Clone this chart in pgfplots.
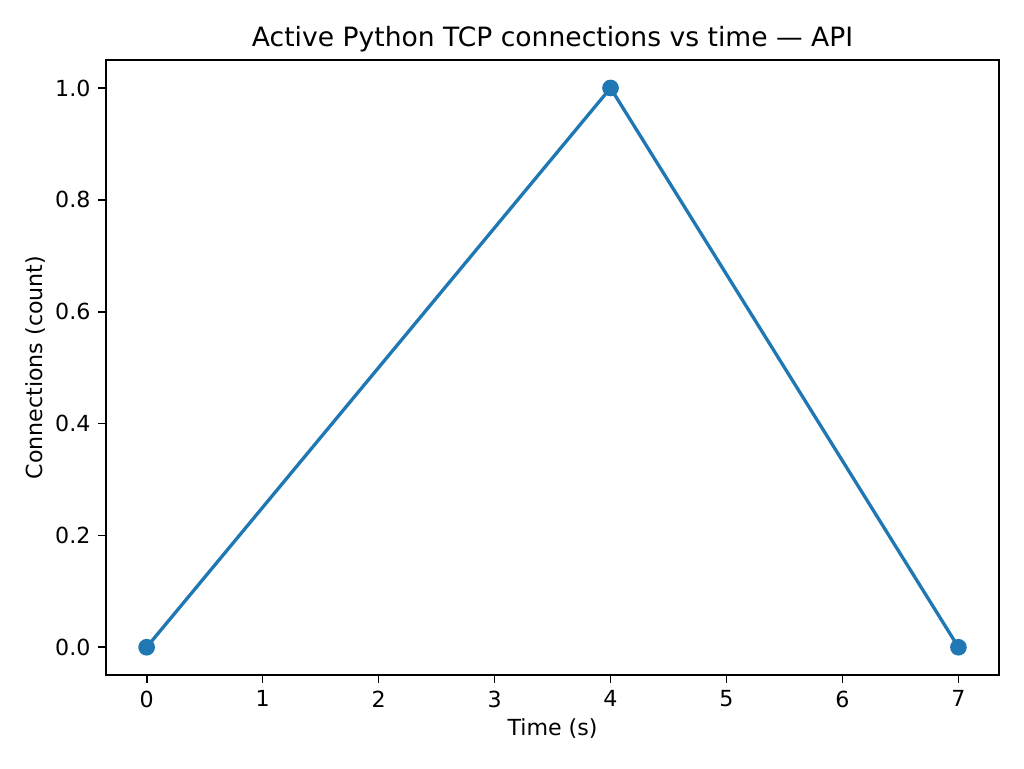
\documentclass[border=0pt]{standalone}
\usepackage{pgfplots}
\pgfplotsset{compat=1.18}
\usepackage{fontspec}
\setmainfont{DejaVu Sans}
\definecolor{mplblue}{HTML}{1F77B4}
\begin{document}
\begin{tikzpicture}
\begin{axis}[
  name=ax,
  scale only axis,
  width=5.58in, height=3.844in,
  xmin=-0.35, xmax=7.35,
  ymin=-0.05, ymax=1.05,
  xtick={0,1,2,3,4,5,6,7},
  ytick={0,0.2,0.4,0.6,0.8,1.0},
  yticklabel style={/pgf/number format/.cd, fixed, fixed zerofill, precision=1},
  /pgf/number format/assume math mode=true,
  tick align=outside,
  major tick length=3.5pt,
  tick style={black, line width=0.8pt},
  axis line style={line width=0.8pt},
  xtick pos=bottom, ytick pos=left,
  ticklabel style={font=\fontsize{10}{12}\selectfont},
  label style={font=\fontsize{10}{12}\selectfont},
  xlabel={Time (s)},
  ylabel={Connections (count)},
  xlabel shift=-2pt,
  ylabel shift=-2.5pt,
  title={Active Python TCP connections vs time — API},
  title style={font=\fontsize{12}{14}\selectfont, yshift=-6pt},
]
\addplot[color=mplblue, line width=1.5pt, mark=*, mark size=3pt, mark options={fill=mplblue, draw=mplblue}]
  coordinates {(0,0) (4,1) (7,0)};
\end{axis}
\pgfresetboundingbox
\path (ax.south west) ++(-0.6625in,-0.581in) coordinate (bl);
\path (ax.north east) ++(0.156in,0.375in) coordinate (tr);
\path[use as bounding box] (bl) rectangle (tr);
\end{tikzpicture}
\end{document}
